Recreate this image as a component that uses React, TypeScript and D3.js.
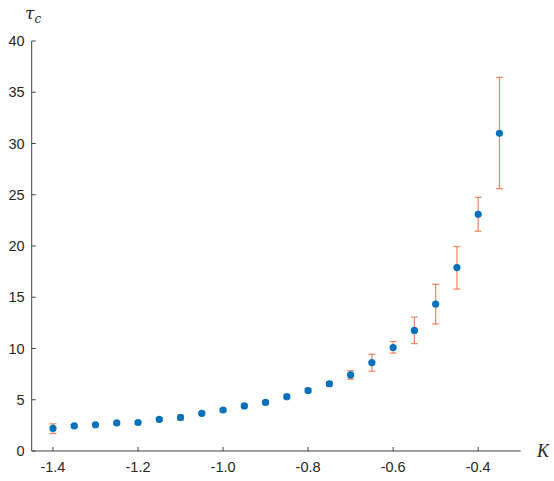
import React from "react";
import * as d3 from "d3";

const kValues = [-1.4, -1.35, -1.3, -1.25, -1.2, -1.15, -1.1, -1.05, -1.0, -0.95, -0.9, -0.85, -0.8, -0.75, -0.7, -0.65, -0.6, -0.55, -0.5, -0.45, -0.4, -0.35];
const tauValues = [2.2, 2.45, 2.56, 2.74, 2.78, 3.08, 3.27, 3.68, 4.0, 4.4, 4.74, 5.3, 5.9, 6.56, 7.42, 8.62, 10.1, 11.76, 14.34, 17.9, 23.1, 31.0];
const errLow = [0.5, 0.12, 0.12, 0.14, 0.14, 0.14, 0.25, 0.14, 0.15, 0.18, 0.18, 0.18, 0.2, 0.2, 0.42, 0.84, 0.55, 1.28, 1.95, 2.1, 1.65, 5.4];
const errHigh = [0.45, 0.12, 0.12, 0.14, 0.14, 0.14, 0.25, 0.14, 0.15, 0.18, 0.18, 0.18, 0.2, 0.2, 0.42, 0.82, 0.58, 1.3, 1.92, 2.05, 1.65, 5.45];
const xTicks = [-1.4, -1.2, -1.0, -0.8, -0.6, -0.4];
const yTicks = [0, 5, 10, 15, 20, 25, 30, 35, 40];

export default function App() {
  const W = 554, H = 481;
  const x = d3.scaleLinear().domain([-1.45, -0.3]).range([31.7, 520.7]);
  const y = d3.scaleLinear().domain([0, 40]).range([451, 41]);
  const axisColor = "#404040";
  const font = "'Liberation Sans', Arial, Helvetica, sans-serif";
  const fmtX = (t: number) => t.toFixed(1);
  return (
    <svg width={W} height={H} style={{ position: "absolute", left: 0, top: 0, background: "#fff" }}>
      {/* axes */}
      <line x1={x.range()[0]} x2={x.range()[0]} y1={y(0)} y2={y(40)} stroke={axisColor} strokeWidth={1} />
      <line x1={x.range()[0]} x2={x.range()[1]} y1={y(0)} y2={y(0)} stroke={axisColor} strokeWidth={1} />
      {yTicks.map((t) => (
        <g key={"y" + t}>
          <line x1={x.range()[0]} x2={x.range()[0] + 4} y1={y(t)} y2={y(t)} stroke={axisColor} strokeWidth={1} />
          <text x={x.range()[0] - 7} y={y(t)} dy="0.36em" textAnchor="end" fontFamily={font} fontSize={14.5} fill="#262626">{t}</text>
        </g>
      ))}
      {xTicks.map((t) => (
        <g key={"x" + t}>
          <line x1={x(t)} x2={x(t)} y1={y(0)} y2={y(0) - 4} stroke={axisColor} strokeWidth={1} />
          <text x={x(t)} y={471.5} textAnchor="middle" fontFamily={font} fontSize={14.5} fill="#262626">{fmtX(t)}</text>
        </g>
      ))}
      {/* labels */}
      <text x={25} y={19} fontFamily="'DejaVu Serif', 'Liberation Serif', serif" fontStyle="italic" fontSize={17} fill="#262626">
        τ<tspan fontSize={12} dy={4}>c</tspan>
      </text>
      <text x={537} y={457} fontFamily="'Liberation Serif', serif" fontStyle="italic" fontSize={18} fill="#262626">K</text>
      {/* error bars */}
      {kValues.map((k, i) => {
        const lo = y(tauValues[i] - errLow[i]);
        const hi = y(tauValues[i] + errHigh[i]);
        const cx = x(k);
        return (
          <g key={"e" + i} stroke="#E4764A" strokeOpacity={0.8} strokeWidth={1.3}>
            <line x1={cx} x2={cx} y1={lo} y2={hi} />
            <line x1={cx - 3.5} x2={cx + 3.5} y1={lo} y2={lo} />
            <line x1={cx - 3.5} x2={cx + 3.5} y1={hi} y2={hi} />
          </g>
        );
      })}
      {/* points */}
      {kValues.map((k, i) => (
        <circle key={"p" + i} cx={x(k)} cy={y(tauValues[i])} r={3.6} fill="#0072BD" />
      ))}
    </svg>
  );
}
